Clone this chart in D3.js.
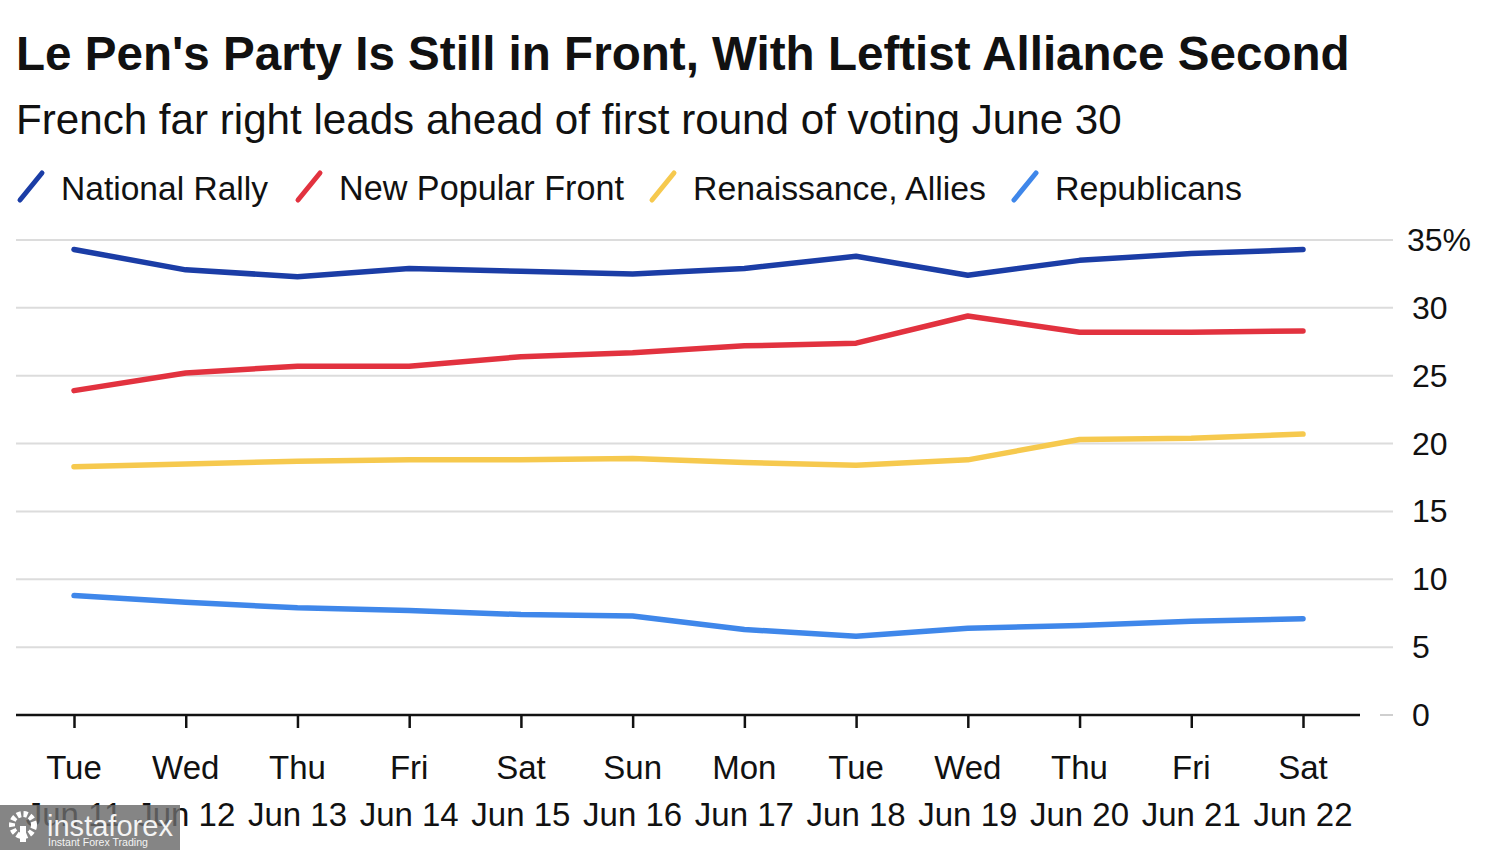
<!DOCTYPE html>
<html><head><meta charset="utf-8">
<script src="https://cdn.jsdelivr.net/npm/d3@7/dist/d3.min.js"></script>
<style>
body{margin:0;background:#fff;}
svg text{font-family:"Liberation Sans",Arial,sans-serif;fill:#111;}
</style></head>
<body>
<svg id="c" width="1500" height="850"></svg>
<script>
const days = ["Tue","Wed","Thu","Fri","Sat","Sun","Mon","Tue","Wed","Thu","Fri","Sat"];
const dates = ["Jun 11","Jun 12","Jun 13","Jun 14","Jun 15","Jun 16","Jun 17","Jun 18","Jun 19","Jun 20","Jun 21","Jun 22"];
const seriesNames = ["National Rally","New Popular Front","Renaissance, Allies","Republicans"];
const seriesColors = ["#1b3da6","#e2323f","#f6c94e","#3f87ea"];
const nationalRally = [34.3,32.8,32.3,32.9,32.7,32.5,32.9,33.8,32.4,33.5,34.0,34.3];
const newPopularFront = [23.9,25.2,25.7,25.7,26.4,26.7,27.2,27.4,29.4,28.2,28.2,28.3];
const renaissance = [18.3,18.5,18.7,18.8,18.8,18.9,18.6,18.4,18.8,20.3,20.4,20.7];
const republicans = [8.8,8.3,7.9,7.7,7.4,7.3,6.3,5.8,6.4,6.6,6.9,7.1];
const yTicks = [0,5,10,15,20,25,30,35];

const svg = d3.select("#c");
const allSeries = [nationalRally,newPopularFront,renaissance,republicans];

function fit(sel, w){ const n=sel.node(); const l=n.getComputedTextLength(); const fs=parseFloat(sel.attr("font-size")); sel.attr("font-size", fs*w/l); }

const title = svg.append("text").attr("x",16).attr("y",70).attr("font-size",44).attr("font-weight","bold")
  .text("Le Pen's Party Is Still in Front, With Leftist Alliance Second");
fit(title,1334);
const sub = svg.append("text").attr("x",16).attr("y",134).attr("font-size",38)
  .text("French far right leads ahead of first round of voting June 30");
fit(sub,1106);

// legend
const legX = [18,296,650,1012];
const legTextW = [207,285,293,187];
seriesNames.forEach((n,i)=>{
  const g = svg.append("g").attr("transform",`translate(${legX[i]},0)`);
  g.append("line").attr("x1",2).attr("y1",200).attr("x2",24).attr("y2",173)
    .attr("stroke",seriesColors[i]).attr("stroke-width",5).attr("stroke-linecap","round");
  const t = g.append("text").attr("x",43).attr("y",200).attr("font-size",34).attr("fill","#111").text(n);
  fit(t,legTextW[i]);
});

const x = d3.scalePoint().domain(d3.range(days.length)).range([74,1303]);
const y = d3.scaleLinear().domain([0,35]).range([715,240]);

// gridlines
svg.append("g").selectAll("line").data(yTicks.filter(d=>d>0)).join("line")
  .attr("x1",16).attr("x2",1393).attr("y1",d=>y(d)).attr("y2",d=>y(d))
  .attr("stroke","#dcdcdc").attr("stroke-width",2);
svg.append("line").attr("x1",1380).attr("x2",1393).attr("y1",y(0)).attr("y2",y(0))
  .attr("stroke","#cfcfcf").attr("stroke-width",2);

// y labels
svg.append("g").selectAll("text").data(yTicks).join("text")
  .attr("x",d=>d===35?1407:1412).attr("y",d=>y(d)+11).attr("font-size",32)
  .text(d=>d===35?"35%":d);

// x axis
const xAxis = d3.axisBottom(x).tickSize(13).tickFormat("");
const ax = svg.append("g").attr("transform",`translate(0,${y(0)})`).call(xAxis);
ax.select(".domain").attr("d","M16,0H1360").attr("stroke","#111").attr("stroke-width",2.5);
ax.selectAll(".tick line").attr("stroke","#111").attr("stroke-width",2.5);
svg.append("g").selectAll("text").data(d3.range(days.length)).join("text")
  .attr("x",d=>x(d)).attr("y",779).attr("text-anchor","middle").attr("font-size",33).text(d=>days[d]);
svg.append("g").selectAll("text").data(d3.range(days.length)).join("text")
  .attr("x",d=>x(d)).attr("y",826).attr("text-anchor","middle").attr("font-size",33).text(d=>dates[d]);

// lines
const line = d3.line().x((d,i)=>x(i)).y(d=>y(d));
allSeries.forEach((s,i)=>{
  svg.append("path").datum(s).attr("d",line).attr("fill","none")
    .attr("stroke",seriesColors[i]).attr("stroke-width",5.5)
    .attr("stroke-linejoin","round").attr("stroke-linecap","round");
});

// watermark overlay (as in the reference image)
const wm = svg.append("g");
wm.append("rect").attr("x",0).attr("y",805).attr("width",180).attr("height",45).attr("fill","#6a6a6a").attr("opacity",0.82);
wm.append("circle").attr("cx",23).attr("cy",825).attr("r",11).attr("fill","none").attr("stroke","#fff").attr("stroke-width",6).attr("stroke-dasharray","4 2.5");
wm.append("rect").attr("x",20).attr("y",826).attr("width",6).attr("height",16).attr("fill","#fff");
const wt = wm.append("text").attr("x",47).attr("y",836).attr("font-size",31).style("fill","#f4f4f4").text("instaforex");
fit(wt,126);
const ws = wm.append("text").attr("x",48).attr("y",846).attr("font-size",10.5).style("fill","#f4f4f4").text("Instant Forex Trading");
fit(ws,100);
</script>
</body></html>
